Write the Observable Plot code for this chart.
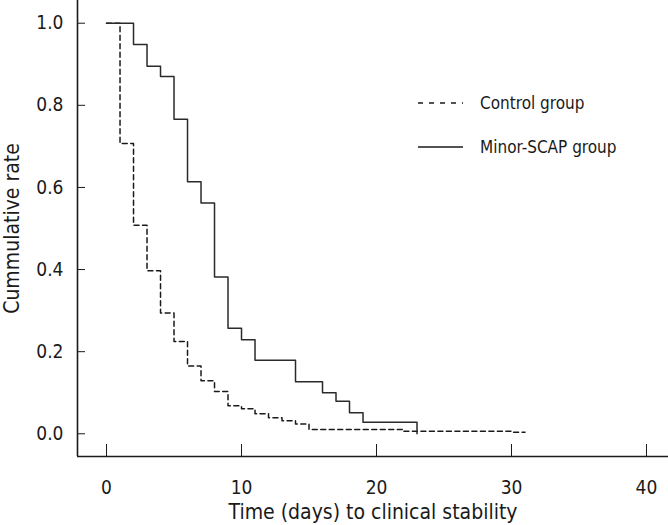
<!DOCTYPE html>
<html><head><meta charset="utf-8">
<script src="https://cdn.jsdelivr.net/npm/d3@7"></script>
<script src="https://cdn.jsdelivr.net/npm/@observablehq/plot@0.6"></script>
<style>
body{margin:0;background:#fff}
#c{position:relative;width:668px;height:525px}
#legend{position:absolute;left:0;top:0}
svg text{font-stretch:condensed}
</style>
</head><body><div id="c"></div>
<script>
// Control group (dashed) step curve
const controlDays  = [0, 1, 2, 3, 4, 5, 6, 7, 8, 9, 10, 11, 12, 13, 14, 15, 22, 30, 31];
const controlRates = [1.0, 0.707, 0.508, 0.397, 0.294, 0.225, 0.165, 0.129, 0.103, 0.068, 0.061, 0.049, 0.039, 0.032, 0.024, 0.0105, 0.006, 0.004, 0.004];
// Minor-SCAP group (solid) step curve
const scapDays  = [0, 2, 3, 4, 5, 6, 7, 8, 9, 10, 11, 14, 16, 17, 18, 19, 23];
const scapRates = [1.0, 0.948, 0.895, 0.870, 0.766, 0.614, 0.562, 0.382, 0.257, 0.229, 0.179, 0.127, 0.100, 0.079, 0.051, 0.028, 0.0];
const xTicks = [0, 10, 20, 30, 40];
const yTicks = [0, 0.2, 0.4, 0.6, 0.8, 1.0];
const xLabel = "Time (days) to clinical stability";
const yLabel = "Cummulative rate";
const seriesNames = ["Control group", "Minor-SCAP group"];

const font = '"Liberation Sans Narrow","Arial Narrow","DejaVu Sans",sans-serif';
const ink = "#1a1a1a";
const xDomain = [-2.15, 41.63];
const yDomain = [-0.0553, 1.0553];

const control = controlDays.map((d, i) => ({day: d, rate: controlRates[i]}));
const scap = scapDays.map((d, i) => ({day: d, rate: scapRates[i]}));

const chart = Plot.plot({
  width: 668, height: 525,
  marginLeft: 77, marginRight: 0, marginTop: 0, marginBottom: 69,
  style: {fontFamily: font, background: "white", color: ink},
  x: {domain: xDomain},
  y: {domain: yDomain},
  marks: [
    Plot.axisY(yTicks, {tickSize: 8, dx: 8, fill: "none", label: null, stroke: ink}),
    Plot.axisY(yTicks, {tickSize: 0, tickPadding: 14, tickFormat: d3.format(".1f"), label: null, fontSize: 19, fill: ink}),
    Plot.axisX(xTicks, {tickSize: 12, dy: -12, fill: "none", label: null, stroke: ink}),
    Plot.axisX(xTicks, {tickSize: 0, tickPadding: 24, label: null, fontSize: 19, fill: ink}),
    Plot.ruleX([xDomain[0]], {stroke: ink, strokeWidth: 1.6}),
    Plot.ruleY([yDomain[0]], {stroke: ink, strokeWidth: 1.6}),
    Plot.line(control, {x: "day", y: "rate", curve: "step-after", stroke: ink, strokeWidth: 1.5, strokeDasharray: "5,3.5"}),
    Plot.line(scap, {x: "day", y: "rate", curve: "step-after", stroke: "#2a2a2a", strokeWidth: 1.5}),
    Plot.text([xLabel], {frameAnchor: "bottom", lineAnchor: "bottom", textAnchor: "middle", dy: 62, fontSize: 21, fill: ink}),
    Plot.text([yLabel], {frameAnchor: "left", textAnchor: "middle", lineAnchor: "middle", dx: -65, rotate: -90, fontSize: 21, fill: ink})
  ]
});
const c = document.getElementById("c");
c.appendChild(chart);

// In-plot legend overlay
const lg = d3.select(c).append("svg").attr("id", "legend").attr("width", 668).attr("height", 525);
const items = [
  {name: seriesNames[0], dash: "5,6", y: 103},
  {name: seriesNames[1], dash: null, y: 147}
];
items.forEach(it => {
  lg.append("line").attr("x1", 418).attr("x2", 463).attr("y1", it.y).attr("y2", it.y)
    .attr("stroke", ink).attr("stroke-width", 1.4).attr("stroke-dasharray", it.dash);
  lg.append("text").attr("x", 480).attr("y", it.y).attr("dy", "0.35em")
    .attr("font-family", font).attr("font-size", 17).attr("fill", ink).text(it.name);
});
</script>
</body></html>
